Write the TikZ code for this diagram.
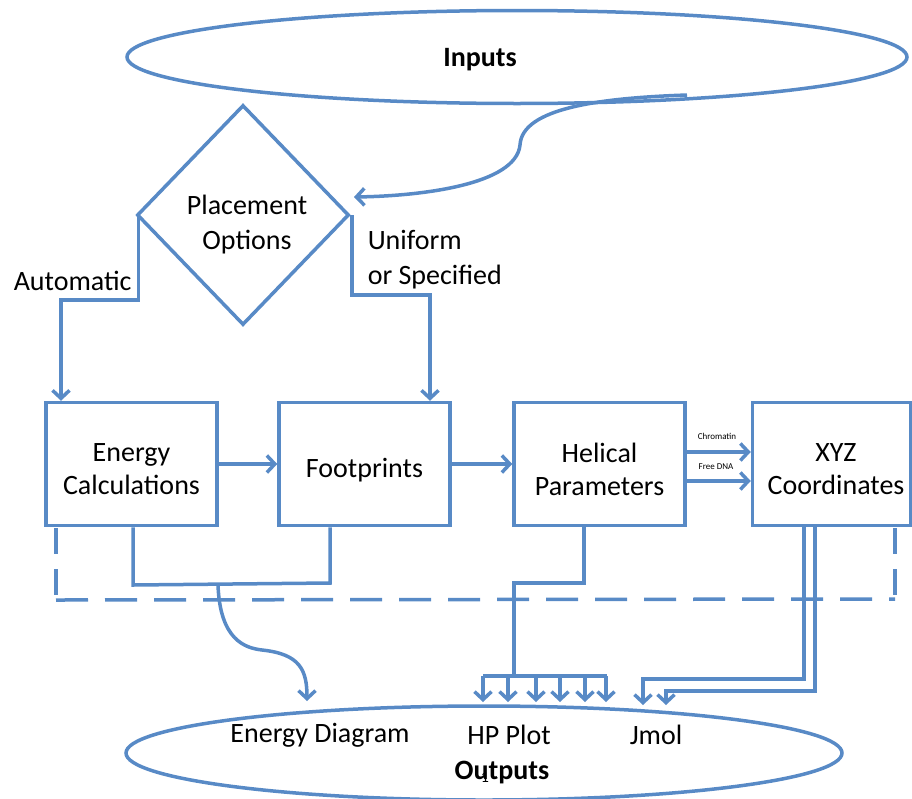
\documentclass[tikz,border=0pt]{standalone}
\usepackage{fontspec}
\setmainfont{Carlito}
\usetikzlibrary{arrows.meta,shapes.geometric}
\definecolor{lb}{RGB}{88,138,198}
\begin{document}
\begin{tikzpicture}[x=1pt,y=-1pt,line width=3.5pt,
  every node/.style={font=\fontsize{28}{33}\selectfont,inner sep=0pt},
  box/.style={draw=lb,minimum width=171pt,minimum height=123pt,align=center},
  ln/.style={draw=lb,line width=3.5pt},
  arr/.style={ln,-{Straight Barb[length=8pt,width=17pt]}},
  tiny/.style={font=\fontsize{9}{10}\selectfont}]
\useasboundingbox (0,0) rectangle (912,798);
% ellipses
\node[draw=lb,ellipse,minimum width=780pt,minimum height=93pt] (inE) at (517,57) {};
\node[font=\fontsize{28}{33}\selectfont\bfseries] (inT) at (480,60) {Inputs};
\node[draw=lb,ellipse,minimum width=716pt,minimum height=94pt] (outE) at (484,753) {};
\node[font=\fontsize{28}{33}\selectfont\bfseries] (outT) at (502,773) {Outputs};
\node[font=\fontsize{16}{18}\selectfont] (pg) at (485,777) {1};
\node (edT) at (320,735) {Energy Diagram};
\node (hpT) at (509,735) {HP Plot};
\node (jmT) at (656,735) {Jmol};
% diamond
\node[draw=lb,diamond,minimum width=212pt,minimum height=220pt] (dia) at (243,215) {};
\node[align=center,font=\fontsize{28}{35}\selectfont] (diaT) at (247,225) {Placement\\Options};
% boxes
\node[box] (b1) at (131.5,464) {};
\node[box] (b2) at (364.5,464) {};
\node[box] (b3) at (599.5,464) {};
\node[box,minimum width=158pt] (b4) at (831.5,464) {};
\node[align=center] (b1T) at (131.5,469) {Energy\\Calculations};
\node (b2T) at (364.5,470) {Footprints};
\node[align=center] (b3T) at (599.5,469) {Helical\\Parameters};
\node[align=center] (b4T) at (836,469) {XYZ\\Coordinates};
% labels
\node[anchor=west] (auto) at (12,281) {Automatic};
\node[anchor=west,align=left,font=\fontsize{28}{35}\selectfont] (uni) at (366,260) {Uniform\\or Specified};
\node[tiny] (chr) at (717,436) {Chromatin};
\node[tiny] (fdna) at (716,467) {Free DNA};
% inputs -> diamond
\coordinate (i1) at (687,95);
\coordinate (i2) at (354,197);
\draw[arr] (i1) .. controls (600,98) and (522,108) .. (520,145) .. controls (516,185) and (420,196) .. (i2);
% diamond -> boxes
\coordinate (a1) at (61,300);
\coordinate (u1) at (430,295);
\draw[arr] ([xshift=3pt]dia.west) |- (a1) -- (a1 |- b1.north);
\draw[arr] ([xshift=1pt]dia.east) |- (u1) -- (u1 |- b2.north);
% box to box
\draw[arr] (b1.east) -- (b2.west);
\draw[arr] (b2.east) -- (b3.west);
\draw[arr] ([yshift=12pt]b3.east) -- ([yshift=12pt]b3.east -| b4.west);
\draw[arr] ([yshift=-17pt]b3.east) -- ([yshift=-17pt]b3.east -| b4.west);
% dashed frame
\draw[ln,dash pattern=on 26pt off 15pt] (56,528) -- (56,600);
\draw[ln,dash pattern=on 32pt off 17pt] (56,600) -- (895,599);
\draw[ln,dash pattern=on 26pt off 15pt] (895,528) -- (895,599);
% energy/footprints to energy diagram
\coordinate (c1) at (133,585);
\coordinate (c2) at (330,583);
\draw[ln] (c1 |- b1.south) -- (c1) -- (c2) -- (c2 |- b2.south);
\coordinate (e1) at (218,585);
\coordinate (e2) at (307,701);
\draw[arr] (e1) .. controls (220,640) and (245,648) .. (262,650) .. controls (300,654) and (307,670) .. (e2);
% helical parameters to HP plot
\coordinate (h1) at (584,583);
\coordinate (h2) at (514,583);
\coordinate (h3) at (514,676);
\draw[ln] (h1 |- b3.south) -- (h1) -- (h2) -- (h3);
\draw[ln] (483,676) -- (607,676);
\foreach \x in {483,508,536,560,585,606}
  \draw[arr] (\x,676) -- (\x,702);
% XYZ to Jmol
\coordinate (x1) at (804,679);
\coordinate (x2) at (815,691);
\draw[arr] (x1 |- b4.south) -- (x1) -- (643,679) -- (643,705);
\draw[arr] (x2 |- b4.south) -- (x2) -- (666,691) -- (666,705);
\end{tikzpicture}
\end{document}
